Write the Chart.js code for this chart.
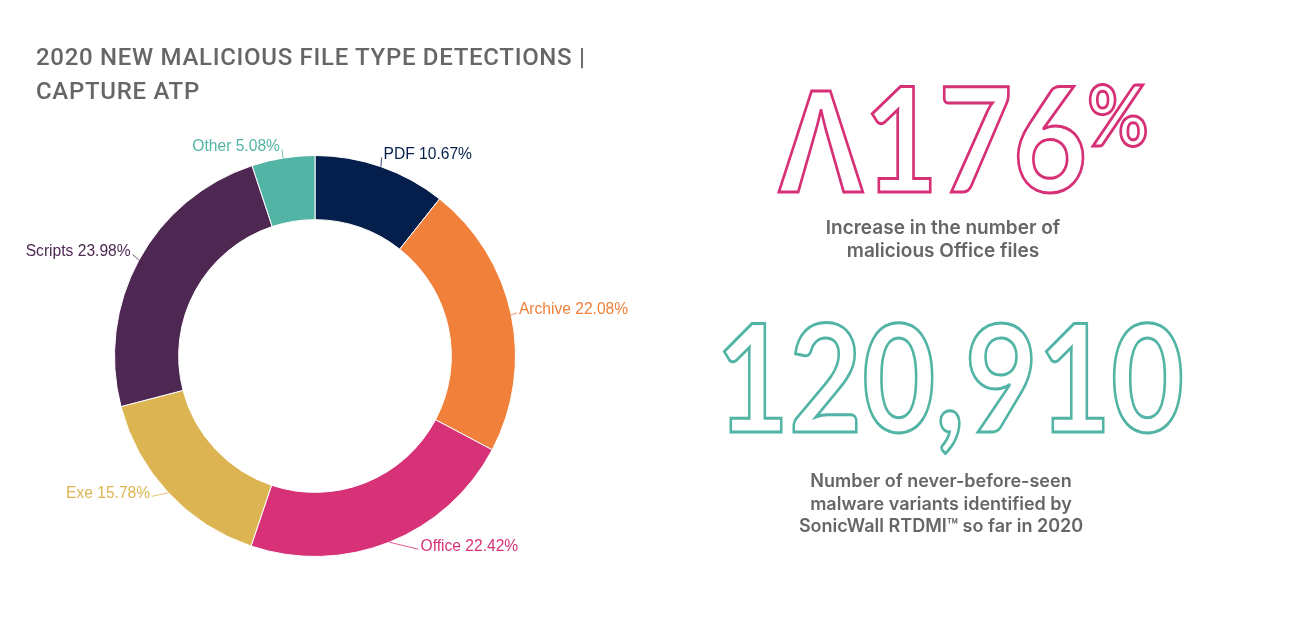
<!DOCTYPE html>
<html>
<head>
<meta charset="utf-8">
<script src="https://cdn.jsdelivr.net/npm/chart.js@4"></script>
<style>
  body { margin: 0; background: #fff; width: 1290px; height: 618px; overflow: hidden; position: relative; font-family: "Liberation Sans", Arial, sans-serif; }
  #chart { position: absolute; left: 0; top: 0; }
  .title { position: absolute; left: 36px; top: 40px; font-family: Roboto, sans-serif; font-weight: 500; font-size: 24px; line-height: 34px; color: #666; letter-spacing: 0.7px; }
  .big { position: absolute; font-family: Lato, sans-serif; font-weight: 700; color: transparent; -webkit-text-stroke: 3px; white-space: nowrap; transform-origin: left top; }
  .pink { -webkit-text-stroke-color: #d63077; }
  .teal { -webkit-text-stroke-color: #52b4a4; }
  .caption { position: absolute; width: 400px; text-align: center; font-family: Inter, sans-serif; font-weight: 600; font-size: 18px; line-height: 22.5px; color: #666; }
</style>
</head>
<body>
<canvas id="chart" width="1290" height="618"></canvas>
<div class="title">2020 NEW MALICIOUS FILE TYPE DETECTIONS |<br>CAPTURE ATP</div>
<div class="big pink" style="left:778px; top:63px; font-size:146px; line-height:146px; transform:scaleX(0.88);"><span style="font-family:'Liberation Sans';">Λ</span>176<span style="font-size:85px; position:relative; top:-46px;">%</span></div>
<div class="caption" style="left:743px; top:217px; font-size:19px;">Increase in the number of<br>malicious Office files</div>
<div class="big teal" style="left:716px; top:300px; font-size:149px; line-height:149px; transform:scaleX(0.846);">120,910</div>
<div class="caption" style="left:741px; top:470px;">Number of never-before-seen<br>malware variants identified by<br>SonicWall RTDMI™ so far in 2020</div>
<script>
const labels = ['PDF', 'Archive', 'Office', 'Exe', 'Scripts', 'Other'];
const shares = [10.67, 22.08, 22.42, 15.78, 23.98, 5.08];
const colors = ['#041f4b', '#f0803a', '#d73178', '#dcb552', '#4e2853', '#52b4a4'];

// text offsets for each outside label, relative to the point just outside the arc
const labelOffsets = [[-2, 1], [-6, -2], [26, -9], [-8, -9], [4, -2], [-1, 2]];

const outsideLabels = {
    id: 'outsideLabels',
    afterDatasetsDraw(chart) {
        const ctx = chart.ctx;
        const arcs = chart.getDatasetMeta(0).data;
        ctx.save();
        ctx.font = '15.6px "Liberation Sans", Arial, sans-serif';
        ctx.textBaseline = 'middle';
        arcs.forEach((arc, i) => {
            const mid = (arc.startAngle + arc.endAngle) / 2;
            const r = arc.outerRadius;
            const ex = arc.x + Math.cos(mid) * r;
            const ey = arc.y + Math.sin(mid) * r;
            const right = Math.cos(mid) >= 0;
            const tx = arc.x + Math.cos(mid) * (r + 14) + labelOffsets[i][0];
            const ty = arc.y + Math.sin(mid) * (r + 14) + labelOffsets[i][1];
            const text = labels[i] + ' ' + shares[i].toFixed(2) + '%';
            ctx.strokeStyle = colors[i];
            ctx.lineWidth = 0.8;
            ctx.beginPath();
            ctx.moveTo(ex, ey);
            ctx.lineTo(tx + (right ? -2 : 2), ty + 3);
            ctx.stroke();
            ctx.fillStyle = colors[i];
            ctx.textAlign = right ? 'left' : 'right';
            ctx.fillText(text, tx, ty);
        });
        ctx.restore();
    }
};

new Chart(document.getElementById('chart'), {
    type: 'doughnut',
    data: {
        labels: labels,
        datasets: [{
            data: shares,
            backgroundColor: colors,
            borderColor: '#ffffff',
            borderWidth: 1
        }]
    },
    options: {
        responsive: false,
        animation: false,
        devicePixelRatio: 1,
        cutout: '68%',
        layout: {
            padding: { left: 114, right: 774, top: 155, bottom: 61 }
        },
        plugins: {
            legend: { display: false },
            tooltip: { enabled: false }
        }
    },
    plugins: [outsideLabels]
});
</script>
</body>
</html>
